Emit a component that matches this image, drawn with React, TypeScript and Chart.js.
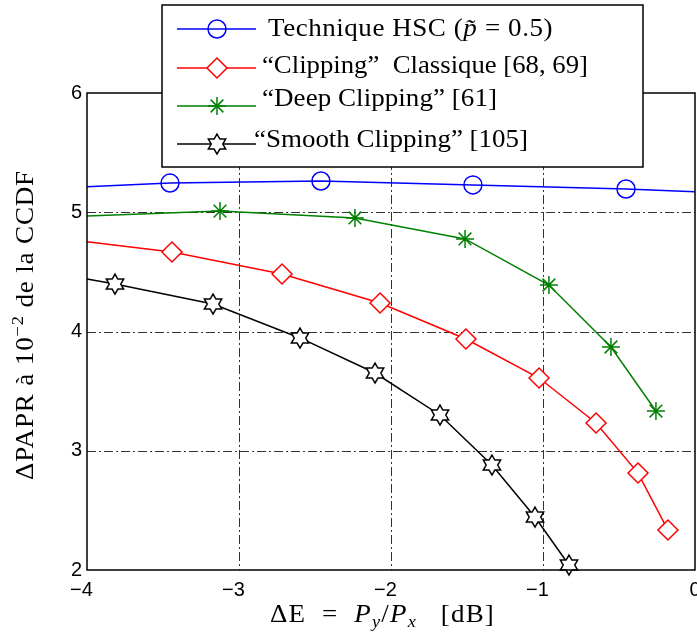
import React, { useEffect, useRef } from 'react';
import { Chart, registerables } from 'chart.js';

Chart.register(...registerables);

// ---- data ----
const xTicks = [-4, -3, -2, -1, 0];
const yTicks = [2, 3, 4, 5, 6];

const hscX = [-4, -3.454, -2.461, -1.461, -0.454, 0];
const hscY = [5.214, 5.245, 5.262, 5.229, 5.195, 5.172];
const hscMarked = [false, true, true, true, true, false];

const clipX = [-4, -3.441, -2.717, -2.072, -1.507, -1.026, -0.651, -0.375, -0.178];
const clipY = [4.753, 4.667, 4.482, 4.239, 3.937, 3.61, 3.233, 2.813, 2.335];
const clipMarked = [false, true, true, true, true, true, true, true, true];

const deepX = [-4, -3.125, -2.237, -1.513, -0.961, -0.553, -0.257];
const deepY = [4.969, 5.01, 4.952, 4.776, 4.39, 3.87, 3.333];
const deepMarked = [false, true, true, true, true, true, true];

const smoothX = [-4, -3.816, -3.171, -2.599, -2.105, -1.678, -1.336, -1.053, -0.829];
const smoothY = [4.44, 4.398, 4.231, 3.946, 3.652, 3.3, 2.881, 2.444, 2.042];
const smoothMarked = [false, true, true, true, true, true, true, true, true];

type Seg = { t: string; italic?: boolean; size?: number; dy?: number };

const legendHSC: Seg[] = [{ t: 'Technique HSC (' }, { t: 'p\u0303', italic: true }, { t: ' = 0.5)' }];
const legendClip: Seg[] = [{ t: '\u201CClipping\u201D  Classique [68, 69]' }];
const legendDeep: Seg[] = [{ t: '\u201CDeep Clipping\u201D [61]' }];
const legendSmooth: Seg[] = [{ t: '\u201CSmooth Clipping\u201D [105]' }];

const xTitle: Seg[] = [
  { t: '\u0394E  =  ' },
  { t: 'P', italic: true },
  { t: 'y', italic: true, size: 17, dy: 5 },
  { t: '/' },
  { t: 'P', italic: true },
  { t: 'x', italic: true, size: 17, dy: 5 },
  { t: '   [dB]' },
];
const yTitle: Seg[] = [
  { t: '\u0394PAPR \u00E0 10' },
  { t: '\u22122', size: 17, dy: -10 },
  { t: ' de la CCDF' },
];

const SERIF = '"Liberation Serif", "Times New Roman", serif';
const SANS = '"Liberation Sans", Arial, sans-serif';

function drawSegs(ctx: CanvasRenderingContext2D, segs: Seg[], x: number, y: number, base: number, target?: number) {
  const fontFor = (s: Seg) => `${s.italic ? 'italic ' : ''}${s.size ?? base}px ${SERIF}`;
  const c: any = ctx;
  const hasLS = 'letterSpacing' in c;
  if (hasLS) c.letterSpacing = '0px';
  let w = 0;
  let n = 0;
  const widths: number[] = [];
  for (const s of segs) {
    ctx.font = fontFor(s);
    const mw = ctx.measureText(s.t).width;
    widths.push(mw);
    w += mw;
    n += Array.from(s.t).length;
  }
  let ls = 0;
  let sx = 1;
  if (target) {
    if (hasLS) {
      sx = Math.min(target / w, 1.08);
      ls = Math.max(0, (target / sx - w) / n);
    } else sx = target / w;
  }
  ctx.save();
  ctx.translate(x, y);
  ctx.scale(sx, 1);
  ctx.fillStyle = '#000';
  ctx.textBaseline = 'alphabetic';
  ctx.textAlign = 'left';
  let cx = 0;
  segs.forEach((s, i) => {
    ctx.font = fontFor(s);
    if (hasLS) c.letterSpacing = `${ls}px`;
    ctx.fillText(s.t, cx, s.dy ?? 0);
    cx += widths[i] + ls * Array.from(s.t).length;
  });
  if (hasLS) c.letterSpacing = '0px';
  ctx.restore();
}

function hexPath(ctx: CanvasRenderingContext2D, x: number, y: number, R: number) {
  const r = R / Math.sqrt(3);
  ctx.beginPath();
  for (let i = 0; i < 12; i++) {
    const a = -Math.PI / 2 + (i * Math.PI) / 6;
    const rr = i % 2 === 0 ? R : r;
    const px = x + rr * Math.cos(a);
    const py = y + rr * Math.sin(a);
    if (i === 0) ctx.moveTo(px, py);
    else ctx.lineTo(px, py);
  }
  ctx.closePath();
}

function makeHexCanvas(): HTMLCanvasElement {
  const c = document.createElement('canvas');
  c.width = 26;
  c.height = 26;
  const g = c.getContext('2d')!;
  hexPath(g, 13, 13, 10);
  g.fillStyle = '#fff';
  g.fill();
  g.strokeStyle = '#000';
  g.lineWidth = 1.5;
  g.stroke();
  return c;
}

function drawMarker(ctx: CanvasRenderingContext2D, kind: string, x: number, y: number, color: string) {
  ctx.save();
  ctx.strokeStyle = color;
  ctx.lineWidth = 1.5;
  ctx.setLineDash([]);
  if (kind === 'circle') {
    ctx.beginPath();
    ctx.arc(x, y, 9, 0, Math.PI * 2);
    ctx.stroke();
  } else if (kind === 'diamond') {
    ctx.beginPath();
    ctx.moveTo(x, y - 10);
    ctx.lineTo(x + 10, y);
    ctx.lineTo(x, y + 10);
    ctx.lineTo(x - 10, y);
    ctx.closePath();
    ctx.fillStyle = '#fff';
    ctx.fill();
    ctx.stroke();
  } else if (kind === 'star') {
    ctx.beginPath();
    for (let i = 0; i < 4; i++) {
      const a = (i * Math.PI) / 4;
      ctx.moveTo(x - 9 * Math.cos(a), y - 9 * Math.sin(a));
      ctx.lineTo(x + 9 * Math.cos(a), y + 9 * Math.sin(a));
    }
    ctx.stroke();
  } else {
    hexPath(ctx, x, y, 10);
    ctx.fillStyle = '#fff';
    ctx.fill();
    ctx.stroke();
  }
  ctx.restore();
}

const legendRows = [
  { segs: legendHSC, color: '#0000ff', marker: 'circle', ly: 29, by: 36, tx: 268, tw: 285 },
  { segs: legendClip, color: '#ff0000', marker: 'diamond', ly: 68, by: 73, tx: 262, tw: 326 },
  { segs: legendDeep, color: '#008000', marker: 'star', ly: 106, by: 106, tx: 262, tw: 235 },
  { segs: legendSmooth, color: '#000000', marker: 'hex', ly: 144, by: 147, tx: 254, tw: 274 },
];

const decorPlugin = {
  id: 'decor',
  beforeDatasetsDraw(chart: any) {
    const { ctx, chartArea: a, scales } = chart;
    const xs = scales.x;
    const ys = scales.y;
    ctx.save();
    ctx.strokeStyle = '#333333';
    ctx.lineWidth = 1;
    ctx.setLineDash([9, 3, 2, 3]);
    for (const v of xTicks.slice(1, -1)) {
      const px = Math.round(xs.getPixelForValue(v)) + 0.5;
      ctx.beginPath();
      ctx.moveTo(px, a.top);
      ctx.lineTo(px, a.bottom);
      ctx.stroke();
    }
    for (const v of yTicks.slice(1, -1)) {
      const py = Math.round(ys.getPixelForValue(v)) + 0.5;
      ctx.beginPath();
      ctx.moveTo(a.left, py);
      ctx.lineTo(a.right, py);
      ctx.stroke();
    }
    ctx.restore();
  },
  afterDraw(chart: any) {
    const { ctx, chartArea: a } = chart;
    ctx.save();
    // frame
    ctx.setLineDash([]);
    ctx.strokeStyle = '#000';
    ctx.lineWidth = 1.5;
    ctx.strokeRect(a.left, a.top, a.right - a.left, a.bottom - a.top);

    // axis titles
    drawSegs(ctx, xTitle, 270, 622, 25, 225);
    ctx.save();
    ctx.translate(33, 480);
    ctx.rotate(-Math.PI / 2);
    drawSegs(ctx, yTitle, 0, 0, 25, 310);
    ctx.restore();

    // legend
    ctx.fillStyle = '#fff';
    ctx.fillRect(162, 5, 481, 162);
    ctx.strokeStyle = '#000';
    ctx.lineWidth = 1.5;
    ctx.strokeRect(162, 5, 481, 162);
    for (const row of legendRows) {
      ctx.strokeStyle = row.color;
      ctx.lineWidth = 1.5;
      ctx.beginPath();
      ctx.moveTo(177, row.ly);
      ctx.lineTo(256, row.ly);
      ctx.stroke();
      drawMarker(ctx, row.marker, 217, row.ly, row.color);
      drawSegs(ctx, row.segs, row.tx, row.by, 25, row.tw);
    }
    ctx.restore();
  },
};

function pts(xs: number[], ys: number[]) {
  return xs.map((x, i) => ({ x, y: ys[i] }));
}

export default function App() {
  const ref = useRef<HTMLCanvasElement | null>(null);
  useEffect(() => {
    if (!ref.current) return;
    const hex = makeHexCanvas();
    const chart = new Chart(ref.current, {
      type: 'line',
      data: {
        datasets: [
          {
            label: 'Technique HSC',
            data: pts(hscX, hscY),
            borderColor: '#0000ff',
            borderWidth: 1.5,
            pointStyle: 'circle',
            pointRadius: hscMarked.map((m) => (m ? 9 : 0)),
            pointBorderColor: '#0000ff',
            pointBackgroundColor: 'rgba(0,0,0,0)',
            pointBorderWidth: 1.5,
            tension: 0,
            clip: false as any,
          },
          {
            label: 'Clipping Classique',
            data: pts(clipX, clipY),
            borderColor: '#ff0000',
            borderWidth: 1.5,
            pointStyle: 'rectRot',
            pointRadius: clipMarked.map((m) => (m ? 10 : 0)),
            pointBorderColor: '#ff0000',
            pointBackgroundColor: '#ffffff',
            pointBorderWidth: 1.5,
            tension: 0,
            clip: false as any,
          },
          {
            label: 'Deep Clipping',
            data: pts(deepX, deepY),
            borderColor: '#008000',
            borderWidth: 1.5,
            pointStyle: 'star',
            pointRadius: deepMarked.map((m) => (m ? 9 : 0)),
            pointBorderColor: '#008000',
            pointBackgroundColor: '#008000',
            pointBorderWidth: 1.5,
            tension: 0,
            clip: false as any,
          },
          {
            label: 'Smooth Clipping',
            data: pts(smoothX, smoothY),
            borderColor: '#000000',
            borderWidth: 1.5,
            pointStyle: hex as any,
            pointRadius: smoothMarked.map((m) => (m ? 10 : 0)),
            tension: 0,
            clip: false as any,
          },
        ],
      },
      options: {
        responsive: false,
        animation: false,
        devicePixelRatio: 1,
        layout: { autoPadding: false, padding: { top: 93, right: 2, left: 0, bottom: 0 } },
        plugins: { legend: { display: false }, tooltip: { enabled: false } },
        scales: {
          x: {
            type: 'linear',
            min: -4,
            max: 0,
            grid: { display: false, drawTicks: false },
            border: { display: false },
            afterBuildTicks: (s: any) => {
              s.ticks = xTicks.map((v) => ({ value: v }));
            },
            afterFit: (s: any) => {
              s.height = 67;
              s.paddingLeft = 0;
              s.paddingRight = 0;
            },
            ticks: {
              color: '#000',
              padding: 8,
              maxRotation: 0,
              autoSkip: false,
              font: { family: SANS, size: 20 },
              callback: (v: any) => (Number(v) < 0 ? '\u2212' + String(Math.abs(Number(v))) + '\u2007' : String(v)),
            },
          },
          y: {
            type: 'linear',
            min: 2,
            max: 6,
            grid: { display: false, drawTicks: false },
            border: { display: false },
            afterBuildTicks: (s: any) => {
              s.ticks = yTicks.map((v) => ({ value: v }));
            },
            afterFit: (s: any) => {
              s.width = 87;
              s.paddingTop = 0;
              s.paddingBottom = 0;
            },
            ticks: {
              color: '#000',
              padding: 5,
              autoSkip: false,
              font: { family: SANS, size: 20 },
              callback: (v: any) => String(v),
            },
          },
        },
      },
      plugins: [decorPlugin],
    });
    return () => {
      chart.destroy();
    };
  }, []);
  return (
    <div style={{ position: 'absolute', left: 0, top: 0, width: 697, height: 637, background: '#fff' }}>
      <canvas ref={ref} width={697} height={637} style={{ display: 'block' }} />
    </div>
  );
}
